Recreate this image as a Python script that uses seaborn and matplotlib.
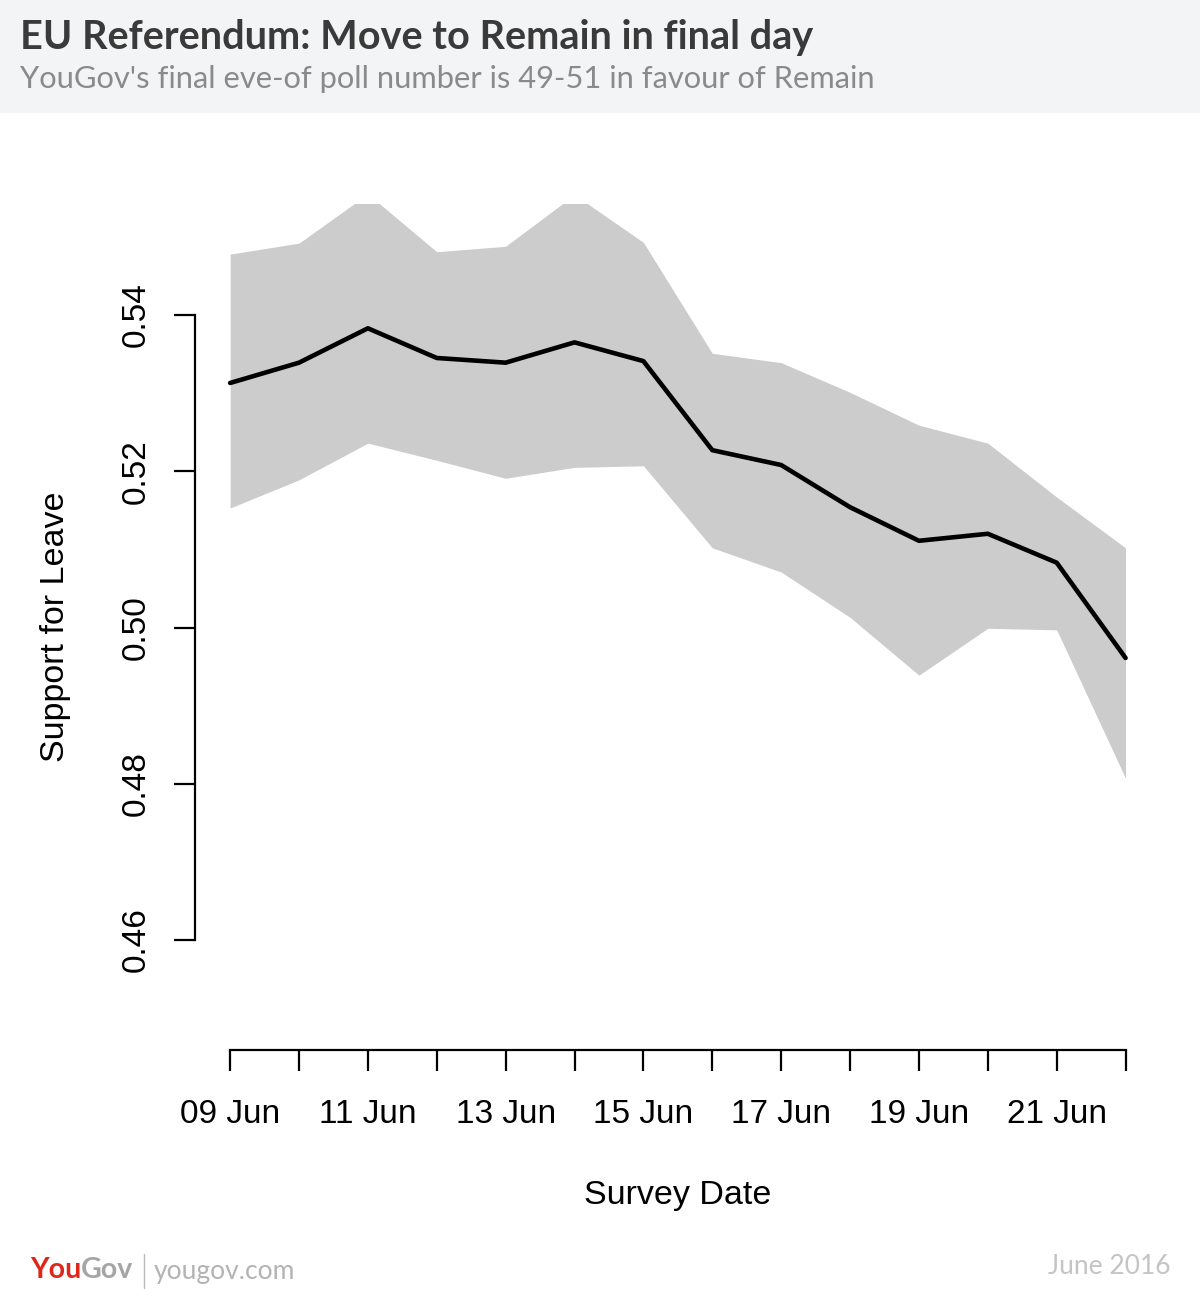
import numpy as np
import pandas as pd
import seaborn as sns
import matplotlib.pyplot as plt
from matplotlib.patches import Rectangle

# Data
days = [9, 10, 11, 12, 13, 14, 15, 16, 17, 18, 19, 20, 21, 22]
leave = [0.5313, 0.5339, 0.5383, 0.5345, 0.5339, 0.5365, 0.5341,
         0.5227, 0.5208, 0.5154, 0.5111, 0.5120, 0.5083, 0.4961]
upper = [0.5478, 0.5492, 0.5555, 0.5481, 0.5488, 0.5554, 0.5493,
         0.5351, 0.5339, 0.5301, 0.5259, 0.5236, 0.5167, 0.5102]
lower = [0.5153, 0.5189, 0.5236, 0.5214, 0.5191, 0.5205, 0.5207,
         0.5102, 0.5071, 0.5013, 0.4939, 0.4999, 0.4997, 0.4807]
y_ticks = [0.46, 0.48, 0.50, 0.52, 0.54]
x_ticks = [9, 11, 13, 15, 17, 19, 21]
x_ticklabels = ['09 Jun', '11 Jun', '13 Jun', '15 Jun', '17 Jun', '19 Jun', '21 Jun']

df = pd.DataFrame({'day': days, 'leave': leave, 'upper': upper, 'lower': lower})

sns.set_style('white')
plt.rcParams['font.family'] = ['Liberation Sans', 'DejaVu Sans']
plt.rcParams['text.color'] = 'black'
plt.rcParams['axes.labelcolor'] = 'black'
plt.rcParams['xtick.color'] = 'black'
plt.rcParams['ytick.color'] = 'black'

fig = plt.figure(figsize=(12, 13.01), dpi=100)

# header band
fig.patches.append(Rectangle((0, 1 - 113 / 1301), 1, 113 / 1301, transform=fig.transFigure,
                             facecolor='#f3f4f5', edgecolor='none', zorder=0))
fig.text(20 / 1200, 1 - 37 / 1301, 'EU Referendum: Move to Remain in final day',
         fontsize=28.5, fontweight='bold', color='#3a3a3a', family=['Lato', 'DejaVu Sans'],
         va='center', ha='left')
fig.text(20 / 1200, 1 - 79 / 1301, "YouGov's final eve-of poll number is 49-51 in favour of Remain",
         fontsize=22.2, color='#8a8a8a', family=['Lato', 'DejaVu Sans'],
         va='center', ha='left')

ax = fig.add_axes([195 / 1200, 1 - 1050 / 1301, (1160 - 195) / 1200, (1050 - 204) / 1301])

ax.fill_between(df['day'], df['lower'], df['upper'], color='#cccccc', linewidth=0)
sns.lineplot(data=df, x='day', y='leave', color='black', linewidth=3.3, ax=ax)

ax.set_xlim(8.49, 22.5)
ax.set_ylim(0.44592, 0.55421)

sns.despine(ax=ax, top=True, right=True)
ax.spines['left'].set_bounds(0.46, 0.54)
ax.spines['bottom'].set_bounds(9, 22)
for s in ['left', 'bottom']:
    ax.spines[s].set_linewidth(1.6)
    ax.spines[s].set_color('black')

ax.set_yticks(y_ticks)
ax.set_yticklabels(['%.2f' % v for v in y_ticks], rotation=90, va='center')
ax.set_xticks(days, minor=False)
ax.set_xticklabels([x_ticklabels[x_ticks.index(d)] if d in x_ticks else '' for d in days])
ax.tick_params(axis='both', direction='out', length=15, width=1.6, color='black',
               labelsize=24, pad=16, left=True, bottom=True)
ax.tick_params(axis='x', pad=20)

ax.set_xlabel('Survey Date', fontsize=24.5, labelpad=36)
ax.set_ylabel('Support for Leave', fontsize=24.5, labelpad=36)

# footer
fig.text(30 / 1200, 1 - 1270 / 1301, 'You', fontsize=20.5, fontweight='bold', color='#e1251b',
         family=['Lato', 'DejaVu Sans'], va='center', ha='left')
fig.text(81 / 1200, 1 - 1270 / 1301, 'Gov', fontsize=20.5, fontweight='bold', color='#a5a5a5',
         family=['Lato', 'DejaVu Sans'], va='center', ha='left')
fig.add_artist(plt.Line2D([144 / 1200, 144 / 1200], [1 - 1254 / 1301, 1 - 1288 / 1301],
                          color='#bbbbbb', linewidth=1))
fig.text(154 / 1200, 1 - 1272 / 1301, 'yougov.com', fontsize=19, color='#b3b3b3',
         family=['Lato', 'DejaVu Sans'], va='center', ha='left')
fig.text(1170 / 1200, 1 - 1267 / 1301, 'June 2016', fontsize=19, color='#c4c4c4',
         family=['Lato', 'DejaVu Sans'], va='center', ha='right')

fig.savefig('out.png', dpi=100, facecolor='white')
